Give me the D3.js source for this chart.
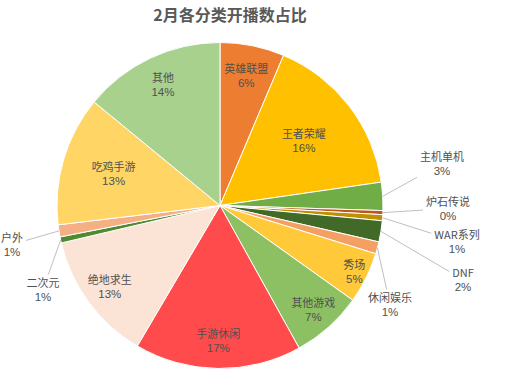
<!DOCTYPE html>
<html>
<head>
<meta charset="utf-8">
<script src="https://cdn.jsdelivr.net/npm/d3@7"></script>
<style>
  html, body { margin: 0; padding: 0; background: #ffffff; }
  svg { display: block; font-family: "Noto Sans CJK SC", "Noto Sans", sans-serif; }
</style>
</head>
<body>
<svg id="chart" width="520" height="376"></svg>
<script>
// ---- data ----
const categories = ["英雄联盟", "王者荣耀", "主机单机", "炉石传说", "WAR系列", "DNF", "休闲娱乐", "秀场", "其他游戏", "手游休闲", "绝地求生", "二次元", "户外", "吃鸡手游", "其他"];
const values = [6.4, 16.4, 2.8, 0.4, 0.6, 2.1, 1.2, 5.1, 7.1, 16.6, 12.9, 0.6, 1.2, 12.9, 14.1];
const colors = ["#ED7D31", "#FFC000", "#70AD47", "#BF5322", "#BF9000", "#416A29", "#F4A064", "#FFC93A", "#8CC063", "#FF4B4B", "#FBE3D5", "#4E8A2E", "#F4B084", "#FFD666", "#A9D18E"];
const title = "2月各分类开播数占比";

// ---- layout config (not data) ----
const cx = 220, cy = 205.5, R = 163;
// radius fraction for inside labels
const insideRadius = {"英雄联盟": 0.81, "王者荣耀": 0.65, "秀场": 0.92, "其他游戏": 0.86, "手游休闲": 0.83, "绝地求生": 0.84, "吃鸡手游": 0.68, "其他": 0.82};
// outside label centres relative to pie centre
const outsideLabel = {
  "主机单机": [222, -42], "炉石传说": [228, 3], "WAR系列": [237, 36], "DNF": [243, 74],
  "休闲娱乐": [170, 99], "二次元": [-177, 84], "户外": [-208, 39]
};

const svg = d3.select("#chart");
const total = d3.sum(values);
const data = categories.map((c, i) => ({name: c, value: values[i], color: colors[i], pct: Math.round(values[i] / total * 100) + "%"}));

svg.append("text")
  .attr("x", 230).attr("y", 21)
  .attr("text-anchor", "middle")
  .attr("font-size", 16).attr("font-weight", "bold")
  .attr("fill", "#595959")
  .text(title);

const pie = d3.pie().value(d => d.value).sort(null).startAngle(0).endAngle(2 * Math.PI);
const arcs = pie(data);
const arc = d3.arc().innerRadius(0).outerRadius(R);

const g = svg.append("g").attr("transform", `translate(${cx},${cy})`);

g.selectAll("path.slice").data(arcs).enter().append("path")
  .attr("class", "slice")
  .attr("d", arc)
  .attr("fill", d => d.data.color)
  .attr("stroke", "#ffffff")
  .attr("stroke-width", 1);

const lineH = 14;
const textColor = "#505050";

function addLabel(x, y, d) {
  const name = g.append("text").attr("class", "lbl").attr("text-anchor", "middle")
    .attr("font-size", 11).attr("fill", textColor)
    .attr("x", x).attr("y", y - 3).text(d.data.name);
  const pct = g.append("text").attr("class", "lbl").attr("text-anchor", "middle")
    .attr("font-size", 11.5).attr("fill", textColor)
    .attr("font-family", "'Liberation Sans', Arial, sans-serif")
    .attr("x", x).attr("y", y - 3 + lineH).text(d.data.pct);
  return Math.max(name.node().getBBox().width, pct.node().getBBox().width);
}

// inside labels
arcs.filter(d => insideRadius[d.data.name] !== undefined).forEach(d => {
  const r = R * insideRadius[d.data.name];
  const la = d3.arc().innerRadius(r).outerRadius(r);
  const [x, y] = la.centroid(d);
  addLabel(x, y, d);
});

// outside labels with leader lines
arcs.filter(d => outsideLabel[d.data.name] !== undefined).forEach(d => {
  const [lx, ly] = outsideLabel[d.data.name];
  const la = d3.arc().innerRadius(R).outerRadius(R);
  const [px, py] = la.centroid(d);
  const bw = addLabel(lx, ly, d);
  const w = bw / 2 + 3;
  const h = 15;
  const vx = px - lx, vy = py - ly;
  const tt = Math.min(Math.abs(vx) > 0 ? w / Math.abs(vx) : Infinity, Math.abs(vy) > 0 ? h / Math.abs(vy) : Infinity);
  const ex = lx + vx * tt, ey = ly + vy * tt;
  g.insert("line", "text.lbl")
    .attr("x1", px).attr("y1", py).attr("x2", ex).attr("y2", ey)
    .attr("stroke", "#BFBFBF").attr("stroke-width", 1);
});
</script>
</body>
</html>
